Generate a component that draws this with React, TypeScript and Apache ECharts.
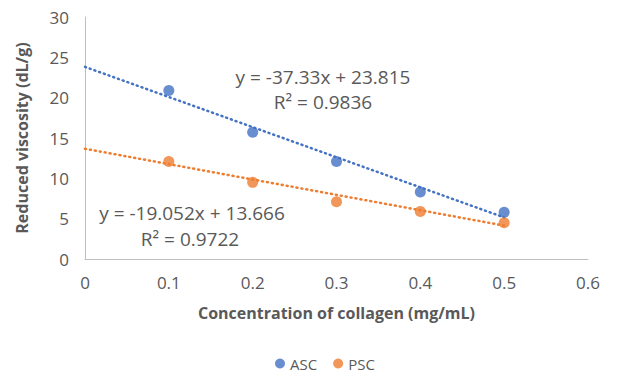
import React, { useEffect, useRef } from "react";
import * as echarts from "echarts";

const concentrations = [0.1, 0.2, 0.3, 0.4, 0.5];
const ascValues = [20.9, 15.7, 12.1, 8.3, 5.8];
const pscValues = [12.1, 9.5, 7.1, 5.9, 4.5];
const ascTrendX = [0, 0.5];
const ascTrendY = [23.815, 5.15];
const pscTrendX = [0, 0.5];
const pscTrendY = [13.666, 4.14];
const ascEquation = "y = -37.33x + 23.815";
const ascR2 = "R² = 0.9836";
const pscEquation = "y = -19.052x + 13.666";
const pscR2 = "R² = 0.9722";

const FONT = "'Open Sans', 'Noto Sans', sans-serif";
const GREY = "#595959";
const BLUE = "#4472C4";
const ORANGE = "#ED7D31";

export default function App() {
  const ref = useRef<HTMLDivElement>(null);
  useEffect(() => {
    if (!ref.current) return;
    const chart = echarts.init(ref.current, undefined, { renderer: "svg" });
    const zip = (xs: number[], ys: number[]) => xs.map((x, i) => [x, ys[i]]);
    const eqStyle = (text: string) => ({
      text,
      fill: GREY,
      fontSize: 19,
      fontFamily: FONT,
      align: "center",
      verticalAlign: "middle",
    });
    chart.setOption({
      animation: false,
      backgroundColor: "#fff",
      textStyle: { fontFamily: FONT },
      grid: { left: 85, right: 53, top: 17, bottom: 115 },
      legend: {
        top: 351,
        left: 270,
        itemWidth: 10,
        itemHeight: 10,
        itemGap: 16,
        icon: "circle",
        textStyle: { color: GREY, fontSize: 15, fontFamily: FONT },
        data: ["ASC", "PSC"],
      },
      xAxis: {
        type: "value",
        min: 0,
        max: 0.6,
        interval: 0.1,
        name: "Concentration of collagen (mg/mL)",
        nameLocation: "middle",
        nameGap: 46,
        nameTextStyle: { color: GREY, fontSize: 16, fontWeight: "bold", fontFamily: FONT },
        axisLine: { show: true, lineStyle: { color: "#BFBFBF", width: 1 } },
        axisTick: { show: false },
        splitLine: { show: false },
        axisLabel: { color: GREY, fontSize: 17, margin: 15, fontFamily: FONT },
      },
      yAxis: {
        type: "value",
        min: 0,
        max: 30,
        interval: 5,
        name: "Reduced viscosity (dL/g)",
        nameLocation: "middle",
        nameGap: 55,
        nameTextStyle: { color: GREY, fontSize: 16, fontWeight: "bold", fontFamily: FONT },
        axisLine: { show: true, lineStyle: { color: "#BFBFBF", width: 1 } },
        axisTick: { show: false },
        splitLine: { show: false },
        axisLabel: { color: GREY, fontSize: 17, margin: 16, fontFamily: FONT },
      },
      series: [
        {
          name: "ASC trend",
          type: "line",
          data: zip(ascTrendX, ascTrendY),
          showSymbol: false,
          symbol: "none",
          lineStyle: { color: BLUE, width: 2.5, type: [1, 4], cap: "round" },
          silent: true,
          z: 1,
        },
        {
          name: "PSC trend",
          type: "line",
          data: zip(pscTrendX, pscTrendY),
          showSymbol: false,
          symbol: "none",
          lineStyle: { color: ORANGE, width: 2.5, type: [1, 4], cap: "round" },
          silent: true,
          z: 1,
        },
        {
          name: "ASC",
          type: "scatter",
          data: zip(concentrations, ascValues),
          symbolSize: 11,
          itemStyle: { color: BLUE },
          z: 3,
        },
        {
          name: "PSC",
          type: "scatter",
          data: zip(concentrations, pscValues),
          symbolSize: 11,
          itemStyle: { color: ORANGE },
          z: 3,
        },
      ],
      graphic: [
        { type: "text", x: 323, y: 77, style: eqStyle(ascEquation) },
        { type: "text", x: 323, y: 102, style: eqStyle(ascR2) },
        { type: "text", x: 192, y: 213, style: eqStyle(pscEquation) },
        { type: "text", x: 190, y: 239, style: eqStyle(pscR2) },
      ],
    });
    return () => chart.dispose();
  }, []);
  return <div ref={ref} style={{ position: "absolute", left: 0, top: 0, width: 641, height: 374 }} />;
}
